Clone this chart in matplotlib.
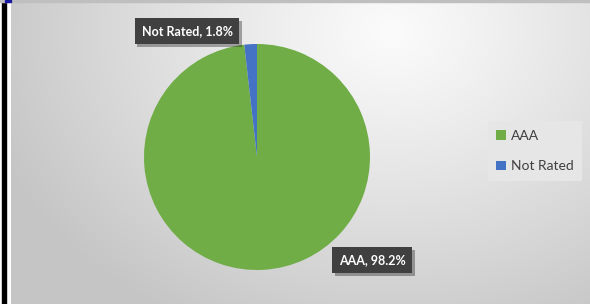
import numpy as np
import matplotlib.pyplot as plt
from matplotlib.patches import Rectangle, Patch
import matplotlib.patheffects as pe

# data
ratings = ['AAA', 'Not Rated']
shares = [98.2, 1.8]
colors = ['#70AD47', '#4472C4']

W, H = 590, 304
fig = plt.figure(figsize=(W / 100, H / 100), dpi=100)
fig.patch.set_facecolor('white')

# gradient background
bg = fig.add_axes([11 / W, 0, 1 - 11 / W, 1 - 1 / H])
bg.set_axis_off()
yy, xx = np.mgrid[0:H, 0:W - 11]
d = np.sqrt(((xx - 380) / 420.0) ** 2 + ((yy - 30) / 330.0) ** 2)
d = np.clip(d, 0, 1)
val = 0.985 - 0.21 * d ** 1.1
img = np.dstack([val, val, val])
bg.imshow(img, aspect='auto', extent=[0, 1, 0, 1], origin='upper')
bg.set_xlim(0, 1)
bg.set_ylim(0, 1)

# left black bar and top border bits
fig.patches.append(Rectangle((2 / W, 0), 4 / W, 1, transform=fig.transFigure,
                             color='black', zorder=5))
fig.patches.append(Rectangle((0, 1 - 1.5 / H), 1, 1.5 / H, transform=fig.transFigure,
                             color='#bfbfbf', zorder=5))
fig.patches.append(Rectangle((5 / W, 1 - 2 / H), 6 / W, 2 / H, transform=fig.transFigure,
                             color='#1a1aa0', zorder=6))

# pie
cx, cy, r = 257, 157, 113
ax = fig.add_axes([(cx - r) / W, (H - cy - r) / H, 2 * r / W, 2 * r / H])
ax.pie(shares, colors=colors, startangle=90, counterclock=False,
       wedgeprops=dict(linewidth=0))
ax.set_xlim(-1, 1)
ax.set_ylim(-1, 1)
ax.set_axis_off()

box = dict(boxstyle='square,pad=0.55', fc='#404040', ec='none',
           path_effects=[pe.SimplePatchShadow(offset=(2, -2), alpha=0.35), pe.Normal()])
fig.text(187 / W, 1 - 31 / H, f'{ratings[1]}, {shares[1]}%', ha='center', va='center',
         color='white', fontsize=9, fontweight='bold', family='Lato', bbox=box, zorder=10)
fig.text(372 / W, 1 - 260 / H, f'{ratings[0]}, {shares[0]}%', ha='center', va='center',
         color='white', fontsize=9, fontweight='bold', family='Lato', bbox=box, zorder=10)

handles = [Patch(facecolor=c, edgecolor='none') for c in colors]
leg = fig.legend(handles, ratings, loc='center left', bbox_to_anchor=(481 / W, 1 - 151 / H),
                 frameon=True, fancybox=False, facecolor='#e6e6e6', edgecolor='none',
                 framealpha=1, handlelength=0.7, handleheight=0.7, handletextpad=0.35,
                 labelspacing=1.35, borderpad=0.6,
                 prop=dict(family='Lato', size=10))
for t in leg.get_texts():
    t.set_color('#404040')

fig.savefig('out.png', dpi=100)
